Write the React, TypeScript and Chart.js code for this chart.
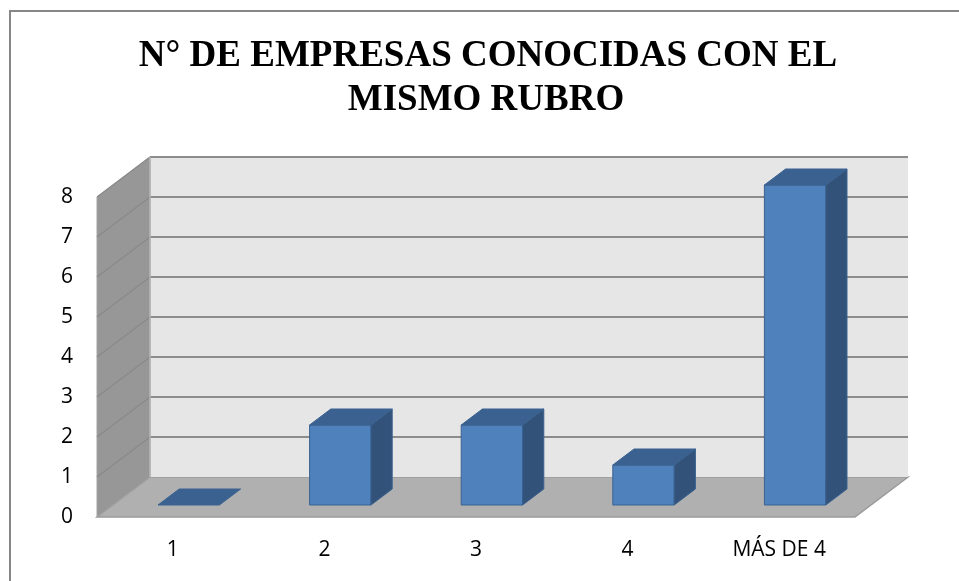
import React, { useEffect, useRef } from 'react';
import { Chart, registerables } from 'chart.js';

Chart.register(...registerables);

const categories = ['1', '2', '3', '4', 'MÁS DE 4'];
const values = [0, 2, 2, 1, 8];
const yTicks = [0, 1, 2, 3, 4, 5, 6, 7, 8];
const titleLines = ['N° DE EMPRESAS CONOCIDAS CON EL', 'MISMO RUBRO'];

const DEPTH_X = 53;
const DEPTH_Y = -40;
const BAR_FRONT = 0.3;
const BAR_BACK = 0.7;

const serifCandidates = ['Liberation Serif', 'Tinos', 'Times New Roman', 'Times', 'Nimbus Roman', 'Nimbus Roman No9 L', 'FreeSerif', 'DejaVu Serif', 'Noto Serif', 'Georgia'];

const pickSerif = (ctx: CanvasRenderingContext2D): string => {
  const sample = 'N° DE EMPRESAS CONOCIDAS mwil';
  const widthWith = (f: string) => {
    ctx.font = `bold 40px ${f}`;
    return ctx.measureText(sample).width;
  };
  const baseMono = widthWith('monospace');
  const baseSans = widthWith('sans-serif');
  for (const c of serifCandidates) {
    const a = widthWith(`"${c}", monospace`);
    const b = widthWith(`"${c}", sans-serif`);
    if (Math.abs(a - b) < 0.5 && (Math.abs(a - baseMono) > 0.5 || Math.abs(b - baseSans) > 0.5)) return `"${c}"`;
  }
  return 'serif';
};

const poly = (ctx: CanvasRenderingContext2D, pts: number[][], fill: string, stroke?: string, lw = 1) => {
  ctx.beginPath();
  ctx.moveTo(pts[0][0], pts[0][1]);
  for (let i = 1; i < pts.length; i++) ctx.lineTo(pts[i][0], pts[i][1]);
  ctx.closePath();
  ctx.fillStyle = fill;
  ctx.fill();
  if (stroke) {
    ctx.strokeStyle = stroke;
    ctx.lineWidth = lw;
    ctx.stroke();
  }
};

const threeD = {
  id: 'threeD',
  beforeDraw(chart: any) {
    const ctx = chart.ctx as CanvasRenderingContext2D;
    ctx.save();
    ctx.fillStyle = '#ffffff';
    ctx.fillRect(0, 0, chart.width, chart.height);
    ctx.strokeStyle = '#878787';
    ctx.lineWidth = 2;
    ctx.strokeRect(10, 11, 2000, 2000);
    ctx.restore();
  },
  beforeDatasetsDraw(chart: any) {
    const ctx = chart.ctx as CanvasRenderingContext2D;
    const { left, right, top, bottom } = chart.chartArea;
    const y = chart.scales.y;
    ctx.save();
    poly(ctx, [[left, bottom], [left + DEPTH_X, bottom + DEPTH_Y], [right + DEPTH_X, bottom + DEPTH_Y], [right, bottom]], '#b0b0b0', '#9a9a9a', 1.5);
    poly(ctx, [[left + DEPTH_X, top + DEPTH_Y], [right + DEPTH_X, top + DEPTH_Y], [right + DEPTH_X, bottom + DEPTH_Y], [left + DEPTH_X, bottom + DEPTH_Y]], '#e6e6e6');
    poly(ctx, [[left, top], [left + DEPTH_X, top + DEPTH_Y], [left + DEPTH_X, bottom + DEPTH_Y], [left, bottom]], '#979797', '#a3a3a3', 1);
    yTicks.forEach((v) => {
      if (v === 0) return;
      const py = y.getPixelForValue(v);
      ctx.beginPath();
      ctx.moveTo(left + DEPTH_X, py + DEPTH_Y);
      ctx.lineTo(right + DEPTH_X, py + DEPTH_Y);
      ctx.strokeStyle = '#8c8c8c';
      ctx.lineWidth = 2;
      ctx.stroke();
      ctx.beginPath();
      ctx.moveTo(left, py);
      ctx.lineTo(left + DEPTH_X, py + DEPTH_Y);
      ctx.strokeStyle = '#898989';
      ctx.lineWidth = 1.2;
      ctx.stroke();
    });
    ctx.beginPath();
    ctx.moveTo(left + DEPTH_X, top + DEPTH_Y);
    ctx.lineTo(left + DEPTH_X, bottom + DEPTH_Y);
    ctx.strokeStyle = '#b4b4b4';
    ctx.lineWidth = 1.5;
    ctx.stroke();
    ctx.restore();
  },
  afterDatasetsDraw(chart: any) {
    const ctx = chart.ctx as CanvasRenderingContext2D;
    const meta = chart.getDatasetMeta(0);
    const fx = BAR_FRONT * DEPTH_X;
    const fy = BAR_FRONT * DEPTH_Y;
    const dx = (BAR_BACK - BAR_FRONT) * DEPTH_X;
    const dy = (BAR_BACK - BAR_FRONT) * DEPTH_Y;
    ctx.save();
    ctx.lineJoin = 'round';
    meta.data.forEach((el: any) => {
      const { x, y, base, width } = el.getProps(['x', 'y', 'base', 'width'], true);
      const l = x - width / 2 + fx;
      const r = x + width / 2 + fx;
      const t = y + fy;
      const b = base + fy;
      const stroke = '#3a6290';
      if (b - t > 0.5) {
        poly(ctx, [[l, t], [r, t], [r, b], [l, b]], '#4f81bd', stroke, 1);
        poly(ctx, [[r, t], [r + dx, t + dy], [r + dx, b + dy], [r, b]], '#32527a', stroke, 1);
      }
      poly(ctx, [[l, t], [r, t], [r + dx, t + dy], [l + dx, t + dy]], '#3b6190', stroke, 1);
    });
    ctx.restore();
  },
  afterDraw(chart: any) {
    const ctx = chart.ctx as CanvasRenderingContext2D;
    ctx.save();
    const fam = pickSerif(ctx);
    ctx.fillStyle = '#000000';
    ctx.font = `bold 37px ${fam}, serif`;
    ctx.textAlign = 'center';
    ctx.textBaseline = 'alphabetic';
    ctx.fillText(titleLines[0], 488, 66, 720);
    ctx.fillText(titleLines[1], 486, 110, 720);
    ctx.restore();
  },
};

export default function App() {
  const ref = useRef<HTMLCanvasElement | null>(null);
  useEffect(() => {
    if (!ref.current) return;
    const font = { family: "'Open Sans', sans-serif", size: 21 };
    const chart = new Chart(ref.current, {
      type: 'bar',
      data: {
        labels: categories,
        datasets: [
          {
            data: values,
            backgroundColor: 'rgba(0,0,0,0)',
            borderWidth: 0,
            barPercentage: 0.405,
            categoryPercentage: 1,
          },
        ],
      },
      options: {
        responsive: false,
        animation: false,
        events: [],
        layout: { padding: { top: 197, right: 104, left: 0, bottom: 0 } },
        plugins: { legend: { display: false }, title: { display: false }, tooltip: { enabled: false } },
        scales: {
          x: {
            grid: { display: false, drawTicks: false },
            border: { display: false },
            ticks: { color: '#000', font, padding: 20, maxRotation: 0, autoSkip: false },
            afterFit: (s: any) => { s.height = 64; },
          },
          y: {
            min: 0,
            max: 8,
            grid: { display: false, drawTicks: false },
            border: { display: false },
            ticks: { color: '#000', font, padding: 24, stepSize: 1 },
            afterBuildTicks: (s: any) => { s.ticks = yTicks.map((v) => ({ value: v })); },
            afterFit: (s: any) => { s.width = 97; },
          },
        },
      },
      plugins: [threeD],
    });
    return () => chart.destroy();
  }, []);
  return (
    <div style={{ position: 'fixed', left: 0, top: 0, width: 959, height: 581, background: '#fff' }}>
      <canvas ref={ref} width={959} height={581} style={{ display: 'block' }} />
    </div>
  );
}
